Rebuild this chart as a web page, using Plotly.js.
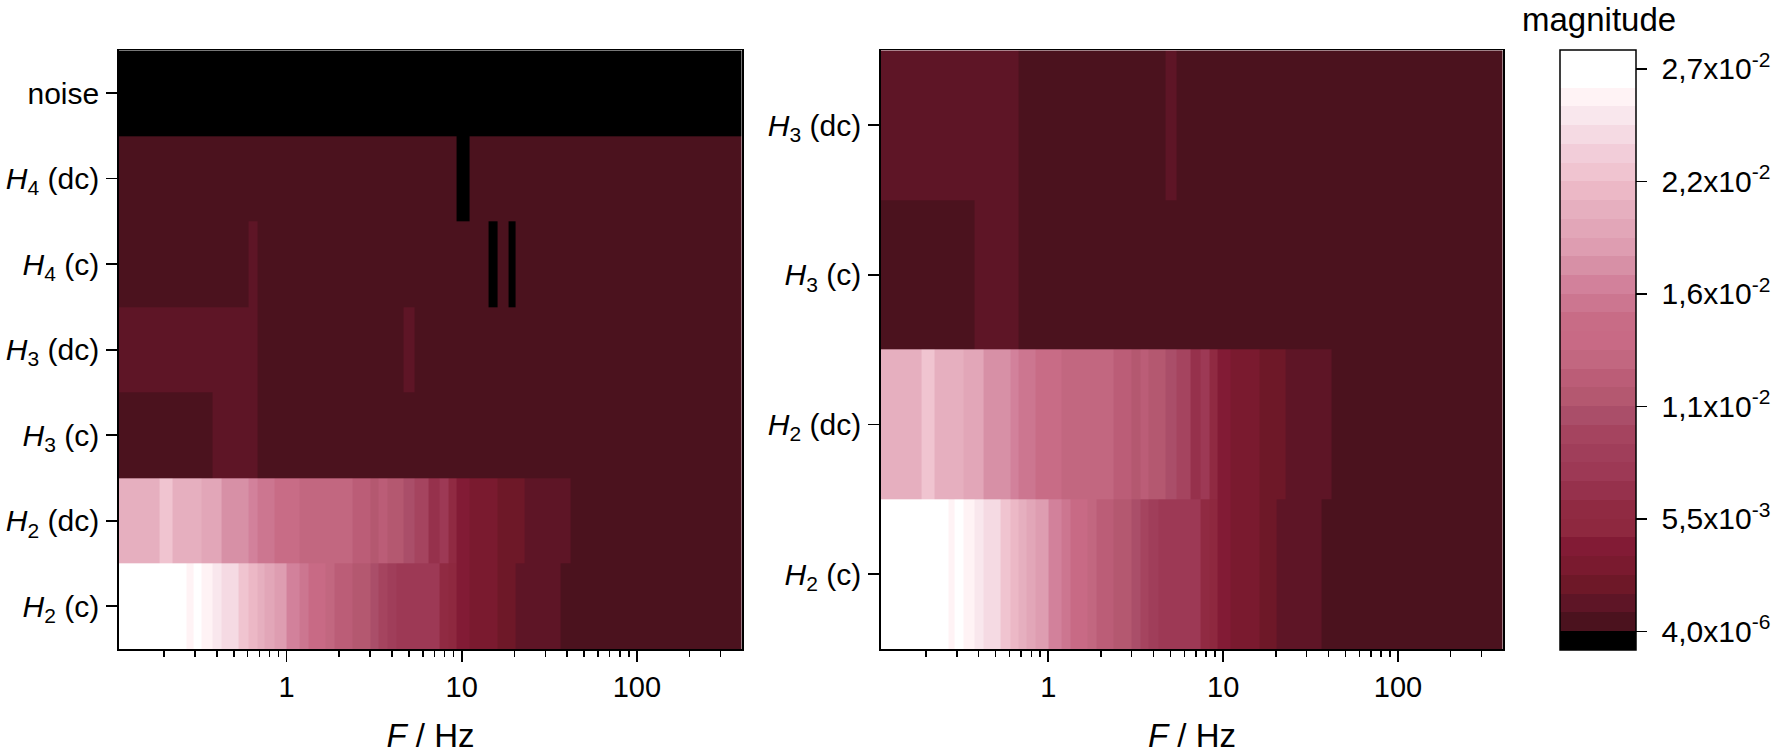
<!DOCTYPE html>
<html>
<head>
<meta charset="utf-8">
<script src="https://cdn.plot.ly/plotly-3.0.1.min.js"></script>
<style>html,body{margin:0;padding:0;background:#fff;overflow:hidden}#chart{width:1777px;height:754px}</style>
</head>
<body>
<div id="chart"></div>
<script>
// Magnitude (x 1e-3) per frequency band; each row lists right-hand band edges in Hz.
const fMin = 0.11, fMax = 398;

const H2c_edges = [0.268,0.293,0.329,0.379,0.424,0.535,0.605,0.68,0.752,0.85,1.0,1.19,1.34,1.68,1.89,2.37,3.0,3.36,3.76,4.25,7.44,8.41,9.35,11.08,16.07,20.27,36.6,398];
const H2c_values = [27.85,26.03,26.94,26.03,25.12,24.20,22.38,21.46,20.55,19.64,18.72,16.90,15.98,14.16,13.24,12.33,11.42,10.50,9.59,8.68,7.76,5.94,5.02,4.11,3.20,2.28,1.37,0.46];

const H2dc_edges = [0.189,0.225,0.326,0.424,0.605,0.68,0.85,1.19,2.37,3.0,3.36,3.76,4.68,5.39,6.47,7.44,8.41,9.35,11.08,16.07,22.8,41.7,398];
const H2dc_values = [20.55,22.38,20.55,19.64,17.81,16.90,15.98,15.07,13.24,12.33,11.42,12.33,11.42,10.50,9.59,6.85,7.76,5.94,4.11,3.20,2.28,1.37,0.46];

const H3c_edges = [0.379,0.68,398];
const H3c_values = [0.46,1.37,0.46];

const H3dc_edges = [0.68,4.68,5.39,398];
const H3dc_values = [1.37,0.46,1.37,0.46];

const H4c_edges = [0.605,0.68,14.2,16.07,18.6,20.27,398];
const H4c_values = [0.46,1.37,0.46,0,0.46,0,0.46];

const H4dc_edges = [9.35,11.08,398];
const H4dc_values = [0.46,0,0.46];

const noise_edges = [398];
const noise_values = [0];

const label_H2c = '<i>H</i><sub>2</sub> (c)';
const label_H2dc = '<i>H</i><sub>2</sub> (dc)';
const label_H3c = '<i>H</i><sub>3</sub> (c)';
const label_H3dc = '<i>H</i><sub>3</sub> (dc)';
const label_H4c = '<i>H</i><sub>4</sub> (c)';
const label_H4dc = '<i>H</i><sub>4</sub> (dc)';
const label_noise = 'noise';

const levelStep = 0.9133e-3;
const levelMin = 4e-6;
const barTickVals = [0.000004,0.00548,0.01096,0.01644,0.02192,0.0274];
const barTickText = ['\u00A04,0x10<sup>-6</sup>','\u00A05,5x10<sup>-3</sup>','\u00A01,1x10<sup>-2</sup>','\u00A01,6x10<sup>-2</sup>','\u00A02,2x10<sup>-2</sup>','\u00A02,7x10<sup>-2</sup>'];
const barColors = ['#000000','#4b121e','#5e1526','#6e1828','#7a1a2f','#821b35','#8e283f','#902a42','#96314c','#9d3955','#a03e5a','#a5445f','#aa4e69','#b45870','#bb5d77','#c26780','#c86a85','#c86c86','#cc7690','#d2819b','#d790a6','#de9db1','#e2a6b8','#e6afbf','#ecb8c6','#f0c4d0','#f2cdd9','#f5dae3','#f9e7ed','#fff3f5','#ffffff','#ffffff'];

const FONT = '"Liberation Sans", Arial, sans-serif';
const SIZE = 30;

function buildGrid(rows) {
  const set = new Set([fMin]);
  rows.forEach(r => r.edges.forEach(e => set.add(e)));
  const edges = Array.from(set).sort((a, b) => a - b);
  const z = rows.map(r => {
    const out = [];
    for (let i = 1; i < edges.length; i++) {
      let j = 0;
      while (r.edges[j] < edges[i]) j++;
      out.push(r.values[j] * 1e-3);
    }
    return out;
  });
  return {x: edges, y: rows.map(r => r.label), z};
}

const n = barColors.length;
const scale = [];
barColors.forEach((c, i) => { scale.push([i / n, c]); scale.push([(i + 1) / n, c]); });
const zmin = levelMin - levelStep;
const zmax = zmin + n * levelStep;

const R = (edges, values, label) => ({edges, values, label});
const leftRows = [R(H2c_edges,H2c_values,label_H2c),R(H2dc_edges,H2dc_values,label_H2dc),R(H3c_edges,H3c_values,label_H3c),R(H3dc_edges,H3dc_values,label_H3dc),R(H4c_edges,H4c_values,label_H4c),R(H4dc_edges,H4dc_values,label_H4dc),R(noise_edges,noise_values,label_noise)];
const rightRows = leftRows.slice(0, 4);

const W = 1777, H = 754;
const g1 = buildGrid(leftRows), g2 = buildGrid(rightRows);

const traces = [
  {type:'heatmap', x:g1.x, y:g1.y, z:g1.z, xaxis:'x', yaxis:'y', colorscale:scale, zmin, zmax, showscale:false, hoverinfo:'skip'},
  {type:'heatmap', x:g2.x, y:g2.y, z:g2.z, xaxis:'x2', yaxis:'y2', colorscale:scale, zmin, zmax, showscale:true, hoverinfo:'skip',
   colorbar:{
     x:1560/W, xanchor:'left', xpad:0, ypad:0,
     y:(H-650)/H, yanchor:'bottom', len:600, lenmode:'pixels',
     thickness:76, thicknessmode:'pixels',
     outlinecolor:'#000', outlinewidth:1.5,
     ticks:'outside', ticklen:11, tickwidth:1.5, tickcolor:'#000',
     tickmode:'array', tickvals:barTickVals, ticktext:barTickText,
     tickfont:{family:FONT,size:SIZE,color:'#000'}
   }}
];

function xAxis(d0, d1, anchor) {
  return {
    type:'log', domain:[d0/W, d1/W], anchor,
    range:[-0.956, 2.6],
    dtick:1, tick0:0, ticks:'outside', ticklen:11, tickwidth:1.8, tickcolor:'#000',
    minor:{ticks:'outside', ticklen:6, tickwidth:1.5, tickcolor:'#000', dtick:'D1', showgrid:false},
    showgrid:false, zeroline:false, showline:true, mirror:true, linecolor:'#000', linewidth:1.8,
    tickfont:{family:FONT,size:29,color:'#000'},
    title:{text:'<i>F</i> / Hz', font:{family:FONT,size:33,color:'#000'}, standoff:24},
    automargin:false
  };
}
function yAxis(top, bottom, anchor, cats) {
  return {
    type:'category', categoryorder:'array', categoryarray:cats,
    domain:[(H-bottom)/H, (H-top)/H], anchor,
    range:[-0.5, cats.length-0.5],
    ticks:'outside', ticklen:11, tickwidth:1.8, tickcolor:'#000',
    showgrid:false, zeroline:false, showline:true, mirror:true, linecolor:'#000', linewidth:1.8,
    tickfont:{family:FONT,size:SIZE,color:'#000'},
    ticklabelstandoff:1, automargin:false
  };
}

const layout = {
  width:W, height:H, margin:{l:0,r:0,t:0,b:0,autoexpand:false},
  paper_bgcolor:'#fff', plot_bgcolor:'#fff', showlegend:false,
  font:{family:FONT,size:SIZE,color:'#000'},
  xaxis:xAxis(119,742,'y'), yaxis:yAxis(50.3,649,'x',g1.y),
  xaxis2:xAxis(881,1503,'y2'), yaxis2:yAxis(50.3,649,'x2',g2.y),
  annotations:[{text:'magnitude', xref:'paper', yref:'paper', x:1599/W, y:(H-39)/H, xanchor:'center', yanchor:'bottom', showarrow:false, borderpad:0, font:{family:FONT,size:33,color:'#000'}}]
};
Plotly.newPlot('chart', traces, layout, {displayModeBar:false, staticPlot:true});
</script>
</body>
</html>
